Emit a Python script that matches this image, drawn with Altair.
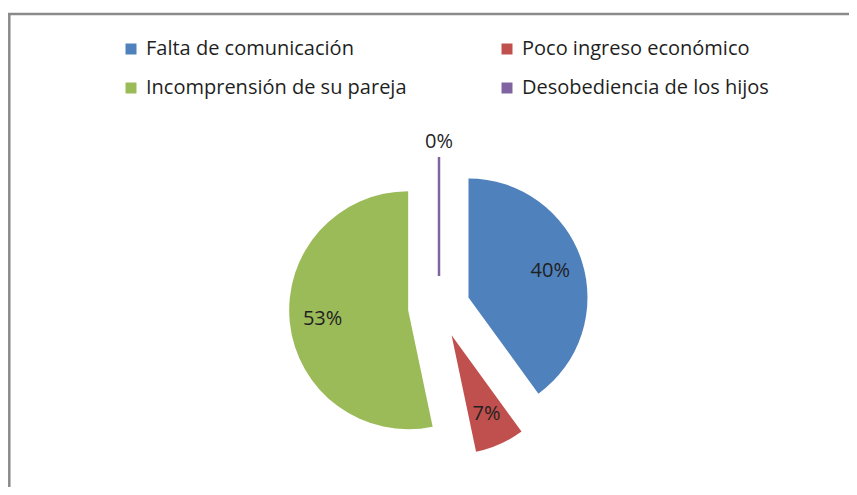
import altair as alt
import pandas as pd

categories = ["Falta de comunicación", "Poco ingreso económico",
              "Incomprensión de su pareja", "Desobediencia de los hijos"]
values = [40.0, 6.7, 53.3, 0.0]
colors = ["#4F81BD", "#C0504D", "#9BBB59", "#8064A2"]

df = pd.DataFrame({"cat": categories, "value": values, "idx": list(range(len(values)))})

W, H = 841, 479
CX, CY = 431, 299      # pie centre (px)
R = 119                # pie radius
E = 31                 # explode distance
RL_IN, RL_OUT = 86, 134
FONT = "Open Sans"

base = alt.Chart(df).transform_window(
    cum="sum(value)", sort=[alt.SortField("idx")], frame=[None, 0]
).transform_joinaggregate(
    total="sum(value)"
).transform_calculate(
    a0="(datum.cum - datum.value) / datum.total * 2 * PI",
    a1="datum.cum / datum.total * 2 * PI",
).transform_calculate(
    mid="(datum.a0 + datum.a1) / 2",
).transform_calculate(
    cx=f"{CX} + {E} * sin(datum.mid)",
    cy=f"{CY} - {E} * cos(datum.mid)",
    rl=f"datum.value < 1 ? {RL_OUT} : {RL_IN}",
    label="format(datum.value / datum.total, '.0%')",
).transform_calculate(
    lx="datum.cx + datum.rl * sin(datum.mid)",
    ly="datum.cy - datum.rl * cos(datum.mid)",
)

arcs = base.mark_arc(radius=R).encode(
    theta=alt.Theta("a0:Q", scale=None, stack=None),
    theta2="a1:Q",
    x=alt.X("cx:Q", scale=None, axis=None),
    y=alt.Y("cy:Q", scale=None, axis=None),
    color=alt.Color(
        "cat:N",
        scale=alt.Scale(domain=categories, range=colors),
        sort=None,
        legend=alt.Legend(
            title=None, orient="none", legendX=113, legendY=31,
            direction="horizontal",
            columns=2, columnPadding=90, rowPadding=19,
            symbolType="square", symbolSize=121, symbolStrokeWidth=0,
            labelFont=FONT, labelFontSize=20, labelColor="#1f1f1f",
            labelOffset=5, padding=0, labelLimit=400,
        ),
    ),
    stroke=alt.Color("cat:N", scale=alt.Scale(domain=categories, range=colors), legend=None),
    strokeWidth=alt.condition("datum.value == 0", alt.value(2.5), alt.value(0)),
)

labels = base.mark_text(font=FONT, fontSize=20, color="#1f1f1f", baseline="middle").encode(
    x=alt.X("lx:Q", scale=None, axis=None),
    y=alt.Y("ly:Q", scale=None, axis=None),
    text="label:N",
)

frame_data = alt.Data(values=[{"k": 1}])
top_rule = alt.Chart(frame_data).mark_rule(color="#8a8a8a", strokeWidth=2.5).encode(
    x=alt.value(0), x2=alt.value(W), y=alt.value(6)
)
left_rule = alt.Chart(frame_data).mark_rule(color="#8a8a8a", strokeWidth=2.5).encode(
    x=alt.value(1.3), y=alt.value(6), y2=alt.value(H)
)

chart = alt.layer(top_rule, left_rule, arcs, labels).properties(
    width=W, height=H, padding=0, autosize=alt.AutoSizeParams(type="none")
).configure_view(stroke=None)

chart.save("out.html", embed_options={"renderer": "svg", "actions": False})
